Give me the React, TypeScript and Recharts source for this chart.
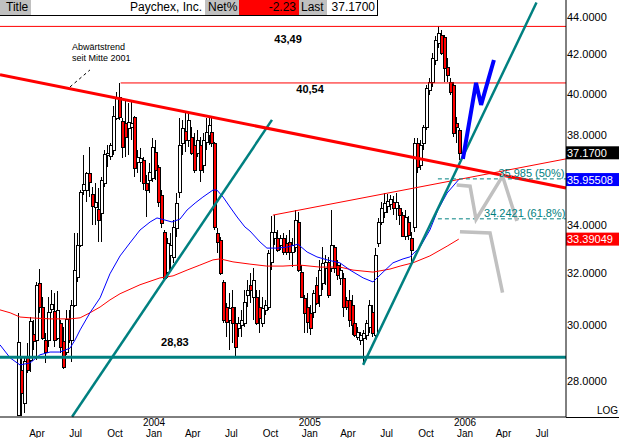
import React from 'react';
import { ComposedChart, Bar, Line, XAxis, YAxis, ReferenceLine, ReferenceDot } from 'recharts';

const FONT = '"Liberation Sans", Arial, sans-serif';

// weekly candles, first one in week 6 (x axis unit = weeks)
const FIRST_WEEK = 6;
const OPEN = [
  26.85, 28.38, 27.24, 28.88, 28.74, 29.68, 29.46, 31.62, 30.69, 29.46,
  29.46, 30.62, 30.54, 29.53, 30.09, 29.42, 29.02, 30.24, 29.46, 30.77,
  31.86, 33.14, 35.49, 35.49, 36.25, 35.31, 34.75, 34.66, 34.49, 35.80,
  37.07, 37.02, 37.30, 38.82, 39.84, 38.67, 38.58, 38.34, 38.38, 38.86,
  36.75, 36.75, 36.84, 35.80, 35.93, 36.02, 37.21, 36.52, 35.27, 33.69,
  32.05, 32.74, 32.66, 33.85, 35.40, 37.63, 38.19, 37.77, 37.91, 37.54,
  37.16, 37.54, 36.61, 37.68, 38.00, 38.14, 37.63, 33.64, 33.35, 31.66,
  30.69, 30.20, 30.69, 30.09, 29.90, 30.02, 30.09, 31.16, 31.55, 31.08,
  31.08, 30.69, 30.09, 30.58, 30.69, 32.46, 33.43, 33.43, 33.14, 33.43,
  33.23, 33.27, 32.86, 33.06, 34.11, 32.05, 31.04, 30.69, 30.47, 30.50,
  31.55, 31.16, 31.62, 32.21, 32.46, 32.21, 33.06, 32.33, 31.82, 31.82,
  30.96, 30.96, 30.77, 30.09, 29.57, 29.46, 29.53, 29.64, 29.94, 30.50,
  29.64, 33.23, 34.11, 34.53, 34.79, 34.88, 34.96, 34.70, 34.70, 34.40,
  33.52, 34.11, 33.43, 33.90, 37.63, 36.61, 37.63, 38.38, 40.19, 40.59,
  41.71, 42.60, 43.03, 42.92, 41.35, 40.59, 40.44, 38.58, 38.24,
];
const HIGH = [
  30.47, 28.85, 28.88, 29.35, 30.31, 30.20, 31.66, 32.17, 31.08, 29.72,
  31.08, 31.35, 31.23, 31.31, 30.20, 29.94, 30.58, 30.58, 30.96, 33.64,
  33.64, 35.49, 37.07, 36.29, 37.44, 35.62, 35.80, 35.58, 36.07, 37.30,
  37.54, 37.63, 39.40, 40.09, 40.54, 38.82, 39.69, 39.54, 39.59, 38.91,
  37.30, 37.40, 36.98, 36.16, 36.70, 37.86, 37.77, 36.61, 35.49, 33.77,
  33.43, 33.64, 34.19, 35.36, 38.82, 38.72, 39.10, 39.06, 38.38, 38.10,
  38.24, 37.91, 38.10, 38.82, 38.86, 38.86, 37.68, 33.85, 33.48, 31.74,
  30.85, 31.23, 31.35, 30.69, 30.31, 30.58, 31.35, 31.74, 32.01, 32.21,
  31.35, 31.35, 31.08, 30.96, 32.94, 34.36, 34.40, 33.77, 33.56, 33.64,
  33.56, 33.77, 33.43, 34.62, 34.53, 32.33, 31.16, 31.23, 30.77, 31.35,
  31.86, 32.54, 33.06, 32.74, 32.66, 34.62, 33.14, 32.54, 32.42, 32.01,
  31.08, 31.35, 31.16, 30.28, 29.94, 29.75, 29.83, 30.20, 30.96, 30.77,
  33.02, 34.28, 34.96, 35.36, 35.31, 35.27, 35.23, 35.36, 34.83, 34.53,
  34.62, 34.36, 33.69, 37.86, 37.86, 37.77, 38.48, 40.44, 40.79, 42.07,
  42.97, 43.49, 43.30, 43.03, 41.81, 40.79, 40.59, 38.86, 38.34,
];
const LOW = [
  26.80, 26.80, 26.90, 28.28, 28.31, 29.09, 28.74, 30.47, 29.46, 28.63,
  29.20, 30.47, 29.20, 29.46, 28.99, 28.42, 28.92, 29.35, 28.67, 30.69,
  31.66, 33.06, 35.27, 34.96, 35.18, 33.98, 33.98, 33.27, 33.27, 35.62,
  36.52, 36.84, 37.07, 38.72, 38.72, 36.93, 36.98, 37.07, 37.77, 36.07,
  36.25, 35.84, 35.49, 34.32, 35.36, 35.84, 35.93, 34.75, 33.85, 31.74,
  31.82, 32.13, 32.42, 33.48, 35.14, 37.07, 37.21, 37.44, 37.07, 36.25,
  36.98, 35.84, 36.25, 37.30, 37.54, 37.44, 33.77, 32.82, 31.94, 30.09,
  29.57, 29.09, 29.35, 28.83, 29.57, 29.57, 29.94, 30.69, 30.85, 30.20,
  30.02, 29.72, 29.94, 30.39, 30.58, 32.13, 33.14, 32.86, 32.94, 32.74,
  32.74, 32.54, 32.25, 32.86, 32.05, 31.04, 29.72, 29.72, 29.64, 30.28,
  30.77, 30.69, 31.35, 31.55, 31.04, 32.05, 32.01, 31.74, 31.55, 30.31,
  30.58, 29.94, 29.64, 29.57, 29.46, 29.27, 28.60, 29.46, 29.72, 29.57,
  29.53, 33.06, 33.98, 34.28, 34.49, 34.62, 34.40, 34.19, 33.98, 33.48,
  33.35, 33.35, 32.46, 33.69, 36.25, 36.38, 37.30, 38.24, 39.94, 40.34,
  41.45, 42.34, 41.97, 40.59, 40.59, 39.94, 37.91, 37.63, 36.84,
];
const CLOSE = [
  29.39, 27.58, 28.70, 28.38, 30.16, 29.42, 31.55, 30.69, 29.53, 29.02,
  30.50, 30.81, 29.46, 30.58, 29.20, 28.49, 30.24, 29.46, 30.77, 32.13,
  33.14, 35.40, 35.75, 36.25, 35.84, 34.79, 34.96, 34.19, 35.93, 37.12,
  37.16, 37.54, 38.91, 39.79, 38.86, 37.44, 37.91, 38.62, 38.58, 36.47,
  36.98, 36.93, 35.80, 35.49, 36.29, 37.44, 36.38, 34.96, 34.06, 31.82,
  33.23, 33.14, 33.90, 34.92, 37.54, 38.34, 37.77, 38.72, 37.16, 36.38,
  37.77, 36.38, 37.77, 38.14, 38.48, 37.63, 33.90, 33.27, 32.01, 30.20,
  30.13, 30.66, 30.09, 29.20, 30.09, 30.20, 30.89, 31.35, 31.35, 31.74,
  30.09, 30.28, 30.66, 30.77, 32.82, 33.69, 33.69, 32.94, 33.43, 32.86,
  32.86, 32.86, 33.14, 34.19, 32.13, 31.08, 30.47, 30.13, 29.90, 31.23,
  30.85, 32.13, 32.42, 32.46, 31.16, 33.14, 32.21, 31.94, 32.13, 30.69,
  30.69, 30.20, 30.02, 29.64, 29.75, 29.64, 29.72, 30.09, 30.77, 29.72,
  32.74, 34.11, 34.70, 34.92, 35.01, 35.10, 34.70, 34.96, 34.40, 33.52,
  34.32, 33.56, 32.94, 37.63, 36.52, 37.54, 38.38, 40.29, 40.59, 41.81,
  42.76, 43.13, 42.07, 41.30, 40.95, 40.09, 38.10, 38.38, 37.17,
];

const CANDLES = OPEN.map((o, i) => ({
  t: FIRST_WEEK + i,
  o,
  h: HIGH[i],
  l: LOW[i],
  c: CLOSE[i],
  range: [LOW[i], HIGH[i]],
}));

// moving averages [week, price]
const FAST_MA: [number, number][] = [
  [0, 29.28], [3.4, 28.81], [6.7, 28.56], [10.1, 28.63], [13.4, 28.92], [16.8, 29.02],
  [20.1, 29.02], [23.5, 29.16], [25.2, 29.46], [26.9, 29.83], [30.2, 30.47], [33.6, 31.04],
  [36.9, 31.98], [40.3, 32.70], [43.6, 33.23], [47.0, 33.77], [50.4, 34.11], [52.7, 34.28],
  [55.4, 34.19], [57.7, 34.11], [60.4, 34.23], [62.8, 34.62], [65.5, 34.92], [68.1, 35.18],
  [71.5, 35.49], [72.8, 35.49], [74.9, 35.18], [77.2, 34.75], [79.6, 34.32], [82.2, 33.90],
  [83.9, 33.73], [87.3, 33.27], [89.6, 33.02], [93.0, 33.02], [96.3, 33.06], [100.0, 33.18],
  [103.1, 32.86], [106.4, 32.66], [109.8, 32.54], [114.1, 32.42], [117.5, 32.13], [121.9, 31.82],
  [125.2, 31.66], [128.6, 32.05], [131.9, 32.42], [135.3, 32.58], [137.6, 32.66], [141.0, 33.06],
  [144.3, 33.77], [147.0, 34.62], [150.1, 35.36], [154.0, 35.955],
];
const SLOW_MA: [number, number][] = [
  [0, 30.58], [3.4, 30.47], [6.7, 30.31], [10.1, 30.28], [16.8, 30.24], [23.5, 30.24],
  [26.9, 30.28], [30.2, 30.47], [33.6, 30.69], [36.9, 30.96], [40.3, 31.20], [47.0, 31.55],
  [53.7, 31.82], [58.1, 31.90], [62.8, 32.13], [67.1, 32.33], [71.5, 32.54], [73.9, 32.58],
  [78.2, 32.46], [83.9, 32.37], [89.6, 32.29], [95.0, 32.29], [100.7, 32.33], [107.4, 32.25],
  [114.1, 32.25], [118.5, 32.13], [125.2, 32.05], [130.9, 32.17], [134.3, 32.29], [138.6, 32.42],
  [144.3, 32.70], [150.1, 33.10], [154.0, 33.39],
];

// drawn annotations [week, price]
const DOWN_TREND: [number, number][] = [[0, 40.95], [190, 35.58]];
const UP_TREND_1: [number, number][] = [[24.2, 26.78], [91.3, 38.72]];
const UP_TREND_2: [number, number][] = [[121.9, 28.56], [180.1, 44.8]];
const CHANNEL_TOP: [number, number][] = [[91.6, 34.4], [190, 36.89]];
const RESIST_2003: [number, number][] = [[40.5, 40.54], [190, 40.54]];
const LEADER: [number, number][] = [[23.5, 40.34], [30.2, 41.2]];
const BLUE_PROJ: [number, number][] = [[155.4, 36.89], [159.8, 40.54], [161.5, 39.45], [165.8, 41.71]];
const GRAY_PROJ_A: [number, number][] = [[153.3, 35.71], [157.8, 35.66], [159.8, 34.22], [168.7, 36.11], [173.5, 34.15]];
const GRAY_PROJ_B: [number, number][] = [[154.4, 33.70], [164.5, 33.65], [168.7, 31.24]];
const HIGH_2005 = 43.49;
const LOW_2004 = 28.83;
const FIB_START = 147.0;
const FIB_50 = 35.985;
const FIB_618 = 34.2421;
const X_END = 190;

const LAST_PRICE = 37.17;
const FAST_LAST = 35.95508;
const SLOW_LAST = 33.39049;

const MONTH_TICKS = [12.4, 25.4, 38.6, 51.7, 64.7, 77.7, 90.8, 104.0, 116.8, 129.8, 143.0, 156.1, 169.0, 182.0];
const MONTH_LABELS = ['Apr', 'Jul', 'Oct', 'Jan', 'Apr', 'Jul', 'Oct', 'Jan', 'Apr', 'Jul', 'Oct', 'Jan', 'Apr', 'Jul'];
const YEAR_LABELS = ['', '', '', '2004', '', '', '', '2005', '', '', '', '2006', '', ''];
const PRICE_TICKS = [28, 30, 32, 34, 38, 40, 42, 44];

const NOTES = [
  { t: 96.7, p: 42.81, text: '43,49', anchor: 'middle', color: '#000', size: 11, bold: true },
  { t: 104.1, p: 40.24, text: '40,54', anchor: 'middle', color: '#000', size: 11, bold: true },
  { t: 58.7, p: 29.39, text: '28,83', anchor: 'middle', color: '#000', size: 11, bold: true },
  { t: 24.2, p: 42.39, text: 'Abwärtstrend', anchor: 'start', color: '#000', size: 9, bold: false },
  { t: 24.2, p: 41.81, text: 'seit Mitte 2001', anchor: 'start', color: '#000', size: 9, bold: false },
  { t: 167.3, p: 36.25, text: '35.985 (50%)', anchor: 'start', color: '#008080', size: 11, bold: false },
  { t: 162.5, p: 34.49, text: '34.2421 (61.8%)', anchor: 'start', color: '#008080', size: 11, bold: false },
];

const pts = (a: [number, number][]) => a.map(([t, p]) => ({ t, p }));
const seg = (a: [number, number][]) => a.map(([x, y]) => ({ x, y }));

const Candle = (props: any) => {
  const { x, y, width, height, payload } = props;
  if (x == null || y == null || !payload) return null;
  const p = Math.round(x + width / 2);
  const lnH = Math.log(payload.h);
  const lnL = Math.log(payload.l);
  const span = lnH - lnL;
  const py = (v: number) => (span > 0 ? y + (height * (lnH - Math.log(v))) / span : y);
  const yo = Math.round(py(payload.o));
  const yc = Math.round(py(payload.c));
  const top = Math.min(yo, yc);
  const bot = Math.max(yo, yc);
  const up = payload.c >= payload.o;
  return (
    <g shapeRendering="crispEdges">
      <line x1={p + 0.5} x2={p + 0.5} y1={Math.round(y)} y2={Math.round(y + height)} stroke="#000" strokeWidth={1} />
      <rect x={p - 0.5} y={top + 0.5} width={3} height={Math.max(bot - top, 1)} fill={up ? '#fff' : '#ff0000'} stroke="#000" strokeWidth={1} />
    </g>
  );
};

const XTick = (props: any) => {
  const { x, payload } = props;
  const i = MONTH_TICKS.indexOf(payload.value);
  return (
    <g fontFamily={FONT} fontSize={10} fill="#000">
      {YEAR_LABELS[i] ? (
        <text x={x} y={426} textAnchor="middle" fill="#000">{YEAR_LABELS[i]}</text>
      ) : null}
      <text x={x} y={437} textAnchor="middle" fill="#000">{MONTH_LABELS[i]}</text>
    </g>
  );
};

const YTick = (props: any) => {
  const { y, payload } = props;
  return (
    <text x={567} y={y + 4} textAnchor="start" fontFamily={FONT} fontSize={11} fill="#000">
      {Number(payload.value).toFixed(4)}
    </text>
  );
};

const PriceTag = (props: any) => {
  const { viewBox, text, bg } = props;
  if (!viewBox) return null;
  const yy = viewBox.y;
  const x0 = viewBox.x + viewBox.width;
  return (
    <g>
      <rect x={x0} y={yy - 6.5} width={53} height={13} fill={bg} />
      <text x={x0 + 1} y={yy + 4} fontFamily={FONT} fontSize={11} fill="#fff">{text}</text>
    </g>
  );
};

const NoteLabel = (props: any) => {
  const { viewBox, note } = props;
  if (!viewBox) return null;
  const cx = viewBox.x + (viewBox.width || 0) / 2;
  const cy = viewBox.y + (viewBox.height || 0) / 2;
  return (
    <text
      x={cx}
      y={cy}
      dominantBaseline="central"
      textAnchor={note.anchor}
      fontFamily={FONT}
      fontSize={note.size}
      fontWeight={note.bold ? 'bold' : 'normal'}
      fill={note.color}
    >
      {note.text}
    </text>
  );
};

const cell = (w: number, bg: string, align: 'left' | 'right', pad: number): React.CSSProperties => ({
  width: w,
  height: 15,
  background: bg,
  textAlign: align,
  paddingLeft: align === 'left' ? pad : 0,
  paddingRight: align === 'right' ? pad : 0,
  boxSizing: 'border-box',
  lineHeight: '15px',
  whiteSpace: 'nowrap',
  overflow: 'hidden',
});

export default function App() {
  return (
    <div style={{ position: 'relative', width: 619, height: 438, background: '#fff', fontFamily: FONT }}>
      <style>{'body{margin:0;background:#fff}'}</style>
      <ComposedChart
        width={619}
        height={438}
        data={CANDLES}
        margin={{ top: 0, right: 0, bottom: 0, left: 0 }}
      >
        <XAxis
          dataKey="t"
          type="number"
          domain={[0, X_END]}
          allowDataOverflow
          ticks={MONTH_TICKS}
          interval={0}
          tick={<XTick />}
          tickLine={false}
          axisLine={{ stroke: '#000' }}
          height={21}
        />
        <YAxis
          orientation="right"
          type="number"
          scale="log"
          domain={[26.77, 44.94]}
          allowDataOverflow
          ticks={PRICE_TICKS}
          interval={0}
          tick={<YTick />}
          tickLine={false}
          axisLine={{ stroke: '#000' }}
          width={53}
        />
        <Bar dataKey="range" barSize={3} shape={<Candle />} isAnimationActive={false} />
        <Line data={pts(SLOW_MA)} dataKey="p" stroke="#ff0000" strokeWidth={1} dot={false} isAnimationActive={false} />
        <Line data={pts(FAST_MA)} dataKey="p" stroke="#0000ff" strokeWidth={1} dot={false} isAnimationActive={false} />

        <ReferenceLine y={HIGH_2005} stroke="#ff0000" strokeWidth={1} />
        <ReferenceLine segment={seg(RESIST_2003)} stroke="#ff0000" strokeWidth={1} ifOverflow="visible" />
        <ReferenceLine segment={seg(CHANNEL_TOP)} stroke="#ff0000" strokeWidth={1} ifOverflow="visible" />
        <ReferenceLine y={LOW_2004} stroke="#008080" strokeWidth={3} />
        <ReferenceLine segment={seg(UP_TREND_1)} stroke="#008080" strokeWidth={2.5} ifOverflow="visible" />
        <ReferenceLine segment={seg(UP_TREND_2)} stroke="#008080" strokeWidth={2.5} ifOverflow="visible" />
        <ReferenceLine segment={seg(DOWN_TREND)} stroke="#ff0000" strokeWidth={3} ifOverflow="visible" />
        <ReferenceLine segment={[{ x: FIB_START, y: FIB_50 }, { x: X_END, y: FIB_50 }]} stroke="#008080" strokeWidth={1} strokeDasharray="4 3" ifOverflow="visible" />
        <ReferenceLine segment={[{ x: FIB_START, y: FIB_618 }, { x: X_END, y: FIB_618 }]} stroke="#008080" strokeWidth={1} strokeDasharray="4 3" ifOverflow="visible" />
        <ReferenceLine segment={seg(LEADER)} stroke="#000" strokeWidth={1} strokeDasharray="3 3" ifOverflow="visible" />

        <Line data={pts(GRAY_PROJ_A)} dataKey="p" stroke="#c0c0c0" strokeWidth={3.5} dot={false} isAnimationActive={false} />
        <Line data={pts(GRAY_PROJ_B)} dataKey="p" stroke="#c0c0c0" strokeWidth={3.5} dot={false} isAnimationActive={false} />
        <Line data={pts(BLUE_PROJ)} dataKey="p" stroke="#0000ff" strokeWidth={4} dot={false} isAnimationActive={false} />

        {NOTES.map((n, i) => (
          <ReferenceDot key={i} x={n.t} y={n.p} r={1} fill="none" stroke="none" ifOverflow="visible" label={<NoteLabel note={n} />} />
        ))}

        <ReferenceLine y={LAST_PRICE} stroke="none" label={<PriceTag text="37.1700" bg="#000000" />} />
        <ReferenceLine y={FAST_LAST} stroke="none" label={<PriceTag text="35.95508" bg="#0000ff" />} />
        <ReferenceLine y={SLOW_LAST} stroke="none" label={<PriceTag text="33.39049" bg="#ff0000" />} />
      </ComposedChart>

      <div style={{ position: 'absolute', left: 566, top: 417, width: 53, height: 1, background: '#000' }} />
      <div style={{ position: 'absolute', right: 1, top: 405, fontSize: 10, lineHeight: '11px' }}>LOG</div>

      <div
        style={{
          position: 'absolute',
          left: 0,
          top: 0,
          display: 'flex',
          fontSize: 12,
          color: '#000',
          borderBottom: '1px solid #000',
          borderRight: '1px solid #000',
          background: '#fff',
        }}
      >
        <div style={cell(31, '#c0c0c0', 'left', 6)}>Title</div>
        <div style={cell(174, '#ffffff', 'right', 3)}>Paychex, Inc.</div>
        <div style={cell(34, '#c0c0c0', 'left', 3)}>Net%</div>
        <div style={cell(60, '#ff0000', 'right', 3)}>-2.23</div>
        <div style={cell(28, '#c0c0c0', 'left', 2)}>Last</div>
        <div style={cell(50, '#ffffff', 'right', 2)}>37.1700</div>
      </div>
    </div>
  );
}
